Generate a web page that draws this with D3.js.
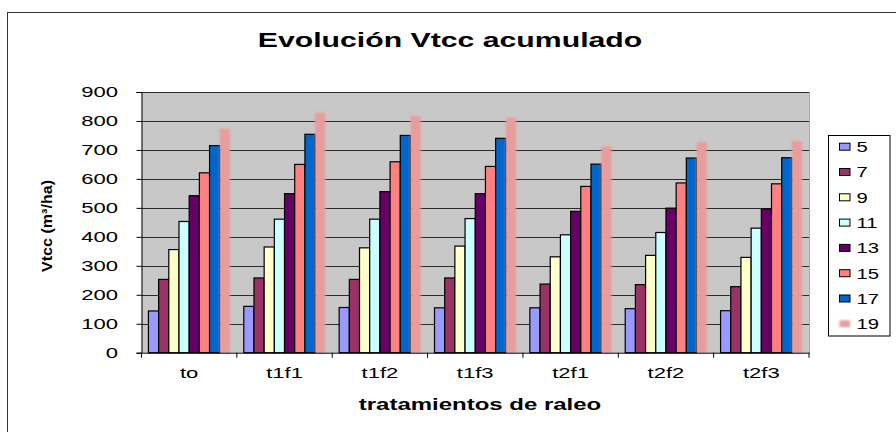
<!DOCTYPE html>
<html>
<head>
<meta charset="utf-8">
<script src="https://cdn.jsdelivr.net/npm/d3@7"></script>
<style>
  html, body { margin: 0; padding: 0; background: #fff; }
  svg { display: block; }
  text { font-family: "Liberation Sans", Arial, sans-serif; fill: #000; }
</style>
</head>
<body>
<svg id="chart" width="896" height="432"></svg>
<script>
// Treatments (x categories)
const categories = ["to", "t1f1", "t1f2", "t1f3", "t2f1", "t2f2", "t2f3"];
// Stand ages (series)
const series = ["5", "7", "9", "11", "13", "15", "17", "19"];
// Accumulated Vtcc (m³/ha), one array per age, in category order
const age5  = [144, 160, 156, 155, 155, 152, 145];
const age7  = [253, 258, 253, 258, 237, 235, 228];
const age9  = [356, 365, 362, 368, 331, 336, 329];
const age11 = [453, 461, 461, 463, 407, 415, 430];
const age13 = [542, 549, 556, 549, 488, 499, 496];
const age15 = [621, 650, 659, 643, 574, 586, 583];
const age17 = [715, 754, 750, 740, 651, 672, 673];
const age19 = [773, 829, 817, 811, 712, 727, 730];
const values = [age5, age7, age9, age11, age13, age15, age17, age19];
const colors = ["#9999ff", "#993366", "#ffffcc", "#ccffff", "#660066", "#ff8080", "#0066cc", "#e89c9c"];
const yTicks = [0, 100, 200, 300, 400, 500, 600, 700, 800, 900];

const svg = d3.select("#chart");
const defs = svg.append("defs");
defs.append("filter").attr("id", "soft")
  .attr("x", "-50%").attr("y", "-5%").attr("width", "200%").attr("height", "110%")
  .append("feGaussianBlur").attr("stdDeviation", 0.9);

// chart frame
svg.append("rect").attr("x", 7.5).attr("y", 12.5).attr("width", 900).attr("height", 440)
  .attr("fill", "#fff").attr("stroke", "#333").attr("stroke-width", 1);

const plot = { left: 141.5, right: 809, top: 92, bottom: 352.7 };
const x0 = d3.scaleBand().domain(categories).range([plot.left, plot.right]).paddingInner(0).paddingOuter(0);
const x1 = d3.scaleBand().domain(series).range([0, x0.bandwidth()]).paddingInner(0).paddingOuter(0.68).align(0.5);
const y = d3.scaleLinear().domain([0, 900]).range([plot.bottom, plot.top]);

const SX = 1.47; // horizontal stretch of the lettering

// plot background
svg.append("rect").attr("x", plot.left).attr("y", plot.top)
  .attr("width", plot.right - plot.left).attr("height", plot.bottom - plot.top)
  .attr("fill", "#c8c8c8");

// gridlines
svg.append("g").selectAll("line").data(yTicks.filter(d => d > 0)).join("line")
  .attr("x1", plot.left).attr("x2", plot.right)
  .attr("y1", d => Math.round(y(d)) + 0.5).attr("y2", d => Math.round(y(d)) + 0.5)
  .attr("stroke", "#2a2a2a").attr("stroke-width", 1);
svg.append("line").attr("x1", plot.right + 0.5).attr("x2", plot.right + 0.5)
  .attr("y1", plot.top).attr("y2", plot.bottom).attr("stroke", "#aaa");

// bars
const groups = svg.append("g").selectAll("g").data(categories).join("g")
  .attr("transform", c => `translate(${x0(c)},0)`);
groups.selectAll("rect").data((c, ci) => series.map((s, si) => ({ s, si, v: values[si][ci] })))
  .join("rect")
  .attr("x", d => x1(d.s))
  .attr("y", d => y(d.v))
  .attr("width", x1.bandwidth())
  .attr("height", d => y(0) - y(d.v))
  .attr("fill", d => colors[d.si])
  .attr("stroke", d => d.s === "19" ? "none" : "#000")
  .attr("stroke-width", 1.2)
  .attr("filter", d => d.s === "19" ? "url(#soft)" : null);

// axes
const yAxis = d3.axisLeft(y).tickValues(yTicks).tickSize(5).tickFormat("");
svg.append("g").attr("transform", `translate(${plot.left},0)`).call(yAxis)
  .call(g => g.selectAll("path,line").attr("stroke", "#000"));
const xAxis = d3.axisBottom(x0).tickSize(0).tickFormat("");
svg.append("g").attr("transform", `translate(0,${plot.bottom})`).call(xAxis)
  .call(g => g.select("path").attr("stroke", "#000"));
svg.append("g").selectAll("line").data(categories.concat(["_end"])).join("line")
  .attr("x1", (c, i) => plot.left + i * x0.step()).attr("x2", (c, i) => plot.left + i * x0.step())
  .attr("y1", plot.bottom).attr("y2", plot.bottom + 5).attr("stroke", "#000");

// stretched text helper
function label(x, yy, txt, size, anchor, weight, sx) {
  return svg.append("text")
    .attr("transform", `translate(${x},${yy}) scale(${sx || SX},1)`)
    .attr("text-anchor", anchor).attr("font-size", size)
    .attr("font-weight", weight || "normal").text(txt);
}

// y tick labels
yTicks.forEach(t => label(118, y(t) + 5.4, String(t), 15, "end"));
// x tick labels
categories.forEach(c => label(x0(c) + x0.bandwidth() / 2, 378, c, 15, "middle"));

// titles
label(450, 47, "Evolución Vtcc acumulado", 21, "middle", "bold", 1.44);
label(480, 409.5, "tratamientos de raleo", 16, "middle", "bold", 1.5);
svg.append("text").attr("transform", "translate(51.5,226) rotate(-90)")
  .attr("text-anchor", "middle").attr("font-size", 14).attr("font-weight", "bold")
  .attr("textLength", 92).attr("lengthAdjust", "spacingAndGlyphs")
  .text("Vtcc (m³/ha)");

// legend
const lg = svg.append("g");
lg.append("rect").attr("x", 828.5).attr("y", 135.5).attr("width", 61.5).attr("height", 200.5)
  .attr("fill", "#fff").attr("stroke", "#000");
series.forEach((s, i) => {
  const cy = 146.7 + i * 25.3;
  lg.append("rect").attr("x", 839.5).attr("y", cy - 3.5).attr("width", 10.5).attr("height", 7)
    .attr("fill", colors[i]).attr("stroke", s === "19" ? "none" : "#000")
    .attr("filter", s === "19" ? "url(#soft)" : null);
  label(856.5, cy + 5.4, s, 15, "start", "normal", 1.35);
});
</script>
</body>
</html>
